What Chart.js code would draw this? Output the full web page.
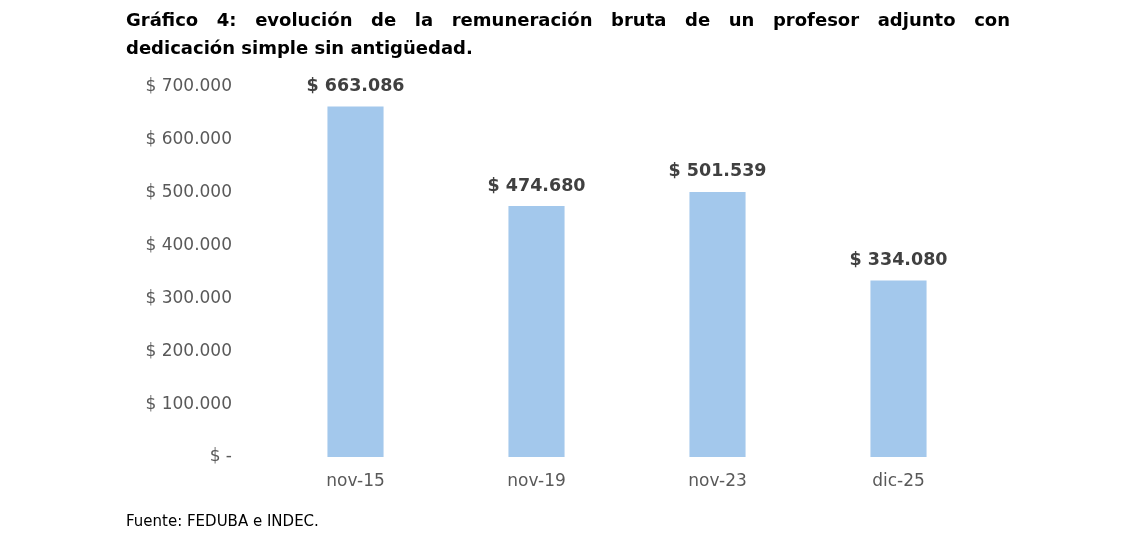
<!DOCTYPE html>
<html><head><meta charset="utf-8">
<script src="https://cdn.jsdelivr.net/npm/chart.js@4/dist/chart.umd.min.js"></script>
<style>
body{margin:0;background:#fff;width:1134px;height:541px;overflow:hidden;position:relative;font-family:"DejaVu Sans",sans-serif}
#t{position:absolute;left:126px;top:6px;width:884px;font-size:18px;font-weight:bold;color:#000;line-height:28px}
#t1{text-align:justify;text-align-last:justify}
#f{position:absolute;left:126px;top:512px;font-size:15px;color:#000}
canvas{position:absolute;left:0;top:0}
</style></head><body>
<canvas id="c" width="1134" height="541"></canvas>
<div id="t"><div id="t1">Gráfico 4: evolución de la remuneración bruta de un profesor adjunto con</div><div>dedicación simple sin antigüedad.</div></div>
<div id="f">Fuente: FEDUBA e INDEC.</div>
<script>
const categories=["nov-15","nov-19","nov-23","dic-25"];
const values=[663086,474680,501539,334080];
const fmt=v=>v===0?"$ -":"$ "+v.toLocaleString("de-DE");
const labelPlugin={id:"lbl",afterDatasetsDraw(ch){const ctx=ch.ctx;ch.getDatasetMeta(0).data.forEach((b,i)=>{ctx.save();ctx.font="bold 17.5px 'DejaVu Sans'";ctx.fillStyle="#404040";ctx.textAlign="center";ctx.textBaseline="middle";ctx.fillText(fmt(values[i]),b.x,b.y-20);ctx.restore();});}};
new Chart(document.getElementById("c"),{type:"bar",
data:{labels:categories,datasets:[{data:values,backgroundColor:"#a3c8ec",categoryPercentage:1,barPercentage:0.31}]},
options:{responsive:false,animation:false,plugins:{legend:{display:false},tooltip:{enabled:false}},
layout:{padding:{left:100,right:145,top:87,bottom:0}},
scales:{
y:{min:0,max:700000,border:{display:false},grid:{display:false},afterFit(s){s.width=165;},
ticks:{stepSize:100000,padding:25,color:"#595959",font:{size:17,family:"DejaVu Sans"},callback:v=>fmt(v)}},
x:{border:{display:false},grid:{display:false,drawTicks:false},afterFit(s){s.height=84;},
ticks:{padding:14,color:"#595959",font:{size:17,family:"DejaVu Sans"}}}}},
plugins:[labelPlugin]});
</script></body></html>
